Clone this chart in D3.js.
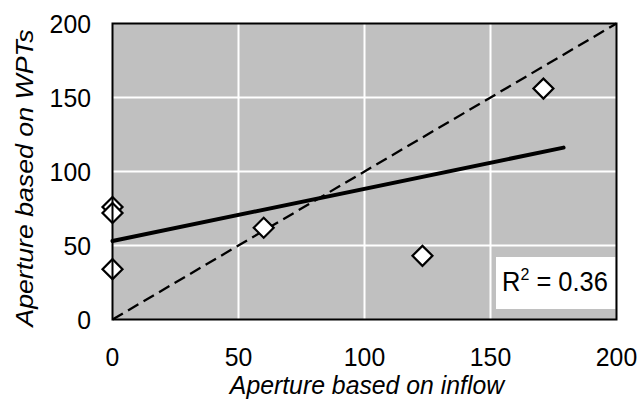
<!DOCTYPE html>
<html>
<head>
<meta charset="utf-8">
<script src="https://cdn.jsdelivr.net/npm/d3@7"></script>
<style>
  html, body { margin: 0; padding: 0; background: #ffffff; }
  svg { display: block; font-family: "Liberation Sans", Arial, sans-serif; }
</style>
</head>
<body>
<svg id="chart" width="637" height="403"></svg>
<script>
// Apertures estimated from inflow (x) and from WPTs (y)
const inflowAperture = [0, 0, 0, 60, 123, 171];
const wptAperture    = [76, 72, 34, 62, 43, 156];

// Axis ticks
const xTicks = [0, 50, 100, 150, 200];
const yTicks = [0, 50, 100, 150, 200];

// Range covered by the fitted trend line
const trendExtent = [0, 179];

// 1:1 reference line
const identityLine = [0, 200];

const svg = d3.select("#chart");
const plot = { left: 112.5, right: 616.5, top: 23.5, bottom: 319.5 };
const fontSize = 24.8;
const tall = 1.077; // glyphs are drawn slightly taller than wide

const x = d3.scaleLinear().domain([0, 200]).range([plot.left, plot.right]);
const y = d3.scaleLinear().domain([0, 200]).range([plot.bottom, plot.top]);

// Plot background
svg.append("rect")
  .attr("x", plot.left).attr("y", plot.top)
  .attr("width", plot.right - plot.left).attr("height", plot.bottom - plot.top)
  .attr("fill", "#c0c0c0");

// Gridlines
const grid = svg.append("g");
grid.selectAll("line.v").data(xTicks.slice(1, -1)).enter().append("line")
  .attr("x1", d => x(d)).attr("x2", d => x(d))
  .attr("y1", plot.top).attr("y2", plot.bottom)
  .attr("stroke", "#ffffff").attr("stroke-width", 2);
grid.selectAll("line.h").data(yTicks.slice(1, -1)).enter().append("line")
  .attr("x1", plot.left).attr("x2", plot.right)
  .attr("y1", d => y(d)).attr("y2", d => y(d))
  .attr("stroke", "#ffffff").attr("stroke-width", 2);

// Least-squares fit
const n = inflowAperture.length;
const mx = d3.mean(inflowAperture), my = d3.mean(wptAperture);
let sxy = 0, sxx = 0, syy = 0;
for (let i = 0; i < n; i++) {
  const dx = inflowAperture[i] - mx, dy = wptAperture[i] - my;
  sxy += dx * dy; sxx += dx * dx; syy += dy * dy;
}
const slope = sxy / sxx;
const intercept = my - slope * mx;
const r2 = (sxy * sxy) / (sxx * syy);

const line = d3.line().x(d => x(d[0])).y(d => y(d[1]));

// Dashed 1:1 line
svg.append("path")
  .datum(identityLine.map(v => [v, v]))
  .attr("d", line)
  .attr("fill", "none").attr("stroke", "#000").attr("stroke-width", 2.3)
  .attr("stroke-dasharray", "12,6");

// Trend line
svg.append("path")
  .datum(trendExtent.map(v => [v, intercept + slope * v]))
  .attr("d", line)
  .attr("fill", "none").attr("stroke", "#000").attr("stroke-width", 4)
  .attr("stroke-linecap", "round");

// Diamond markers
const diamond = d3.symbol().type(d3.symbolSquare).size(200);
svg.append("g").selectAll("path")
  .data(inflowAperture.map((v, i) => [v, wptAperture[i]]))
  .enter().append("path")
  .attr("d", diamond)
  .attr("transform", d => `translate(${x(d[0])},${y(d[1])}) rotate(45)`)
  .attr("fill", "#ffffff").attr("stroke", "#000").attr("stroke-width", 2.2);

// Horizontal text helper
function label(g, px, py, anchor) {
  return g.append("text")
    .attr("transform", `translate(${px},${py}) scale(1,${tall})`)
    .attr("text-anchor", anchor).attr("font-size", fontSize).attr("fill", "#000");
}

// R² label box
const box = svg.append("g");
box.append("rect")
  .attr("x", 496).attr("y", 257).attr("width", plot.right - 1 - 496).attr("height", 52)
  .attr("fill", "#ffffff");
const r2Text = label(box, 502, 291, "start").attr("font-size", 25.5);
r2Text.append("tspan").text("R");
r2Text.append("tspan").attr("dy", -10).attr("font-size", 16).text("2");
r2Text.append("tspan").attr("dy", 10).text(" = " + r2.toFixed(2));

// Plot border
svg.append("rect")
  .attr("x", plot.left).attr("y", plot.top)
  .attr("width", plot.right - plot.left).attr("height", plot.bottom - plot.top)
  .attr("fill", "none").attr("stroke", "#000").attr("stroke-width", 2);

// Tick labels
const xLabels = svg.append("g");
xTicks.forEach(d => label(xLabels, x(d), 365.5, "middle").text(d));
const yLabels = svg.append("g");
yTicks.forEach(d => label(yLabels, 91, y(d) + 9.5, "end").text(d));

// Axis titles
label(svg, 367, 394, "middle").attr("font-style", "italic")
  .text("Aperture based on inflow");
svg.append("text")
  .attr("transform", `translate(33,178) rotate(-90) scale(${tall},1)`)
  .attr("text-anchor", "middle").attr("font-size", fontSize).attr("font-style", "italic")
  .text("Aperture based on WPTs");
</script>
</body>
</html>
